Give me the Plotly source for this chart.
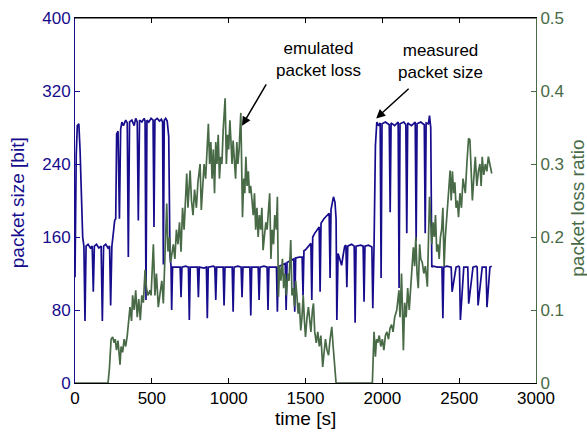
import plotly.graph_objects as go

# ---------------- data ----------------
size_t = [0, 8, 15, 25, 33, 42, 50, 58, 65, 72, 85, 100, 112, 119, 126, 140, 155, 170, 178, 186, 200, 215, 225, 232, 240,
          250, 258, 265, 271, 280, 289, 297, 305, 315, 330, 340, 347, 355, 370, 385, 395, 405, 412, 420, 435, 450, 456, 462,
          468, 480, 495, 508, 514, 520, 535, 550, 562, 570, 575, 581, 590, 600, 610, 618, 625, 629, 635,
          660, 684, 690, 696, 720, 738, 744, 750, 780, 797, 803, 809, 840, 855, 861, 867, 900, 910, 916, 922, 950, 964, 970, 976,
          1000, 1023, 1029, 1035, 1060, 1081, 1087, 1093, 1120, 1138, 1144, 1150, 1175, 1192, 1198, 1204, 1230, 1250, 1256, 1262,
          1290, 1311, 1317, 1323, 1330, 1350, 1368, 1374, 1380, 1400, 1424, 1430, 1436, 1460, 1478, 1484, 1490,
          1500, 1530, 1535, 1541, 1547, 1560, 1585, 1589, 1595, 1601, 1620, 1650, 1654, 1660, 1666, 1682, 1692, 1699, 1704,
          1712, 1725, 1735, 1745, 1755, 1763, 1769, 1775, 1800, 1817, 1823, 1829, 1860, 1875, 1881, 1887, 1910, 1932, 1938,
          1946, 1955, 1964, 1975, 1986, 1992, 1998, 2020, 2045, 2051, 2057, 2080, 2103, 2109, 2115, 2140, 2153, 2159, 2165,
          2190, 2214, 2220, 2226, 2250, 2273, 2279, 2285, 2300, 2307, 2315, 2322, 2330, 2360, 2388, 2394, 2400, 2420, 2442,
          2448, 2454, 2480, 2496, 2502, 2508, 2530, 2550, 2556, 2562, 2590, 2611, 2617, 2623, 2650, 2669, 2675, 2681, 2700, 2712]
size_v = [116, 250, 282, 284, 255, 190, 160, 150, 68, 150, 152, 148, 150, 100, 150, 152, 148, 150, 68, 150, 152, 148, 150, 85, 150,
          165, 178, 180, 273, 276, 180, 278, 286, 282, 288, 285, 138, 286, 288, 282, 290, 286, 178, 288, 286, 290, 287, 91,
          288, 286, 290, 288, 171, 288, 290, 287, 289, 286, 130, 288, 290, 287, 270, 140, 128, 80, 127,
          127, 127, 94, 127, 128, 127, 69, 127, 127, 127, 94, 127, 126, 127, 71, 127, 128, 127, 91, 127, 127, 127, 85, 127,
          127, 127, 78, 127, 128, 127, 94, 127, 127, 127, 74, 127, 127, 127, 91, 127, 128, 127, 80, 127,
          127, 127, 78, 127, 128, 130, 131, 80, 132, 134, 136, 78, 137, 138, 138, 96, 145,
          146, 152, 153, 91, 160, 164, 170, 171, 100, 175, 180, 185, 186, 115, 190, 204, 198, 180, 69,
          142, 135, 129, 140, 150, 151, 105, 150, 152, 150, 66, 150, 151, 150, 89, 150, 151, 149, 82,
          150, 260, 286, 282, 285, 115, 284, 286, 283, 187, 285, 282, 286, 104, 284, 286, 283, 164, 285,
          282, 286, 156, 284, 286, 283, 164, 285, 284, 293, 280, 127, 128, 127, 127, 71, 127, 128, 127,
          127, 100, 127, 128, 127, 69, 127, 127, 127, 87, 127, 128, 127, 85, 127, 127, 127, 83, 127, 128, 127]

loss_t = [0, 215, 224, 235, 245, 255, 262, 270, 280, 293, 300, 310, 320, 330, 340, 350, 358, 368, 375, 385, 395, 405, 415, 425,
          435, 445, 456, 465, 475, 488, 495, 510, 520, 530, 542, 555, 565, 575, 585, 597, 605, 615, 622, 630, 640, 650, 660,
          670, 680, 690, 700, 710, 720, 727, 735, 745, 749, 758, 768, 778, 790, 800, 814, 822, 832, 840, 850, 858, 868, 876,
          884, 892, 900, 908, 916, 924, 932, 940, 948, 956, 964, 977, 985, 993, 1000, 1008, 1016, 1022, 1029, 1037, 1045,
          1053, 1060, 1068, 1079, 1090, 1098, 1105, 1112, 1120, 1128, 1135, 1143, 1152, 1160, 1168, 1176, 1184, 1192, 1200,
          1208, 1216, 1224, 1232, 1242, 1250, 1258, 1267, 1275, 1283, 1292, 1300, 1310, 1317, 1324, 1332, 1340, 1350, 1358,
          1366, 1375, 1385, 1393, 1404, 1412, 1420, 1428, 1436, 1444, 1452, 1460, 1469, 1477, 1485, 1493, 1500, 1510, 1519,
          1528, 1535, 1545, 1552, 1560, 1570, 1580, 1590, 1600, 1612, 1620, 1630, 1640, 1650, 1660, 1671, 1680, 1690, 1699,
          1935, 1946, 1955, 1962, 1970, 1980, 1990, 2000, 2010, 2020, 2030, 2040, 2050, 2060, 2070, 2080, 2094, 2108, 2115,
          2125, 2137, 2145, 2155, 2165, 2175, 2190, 2202, 2210, 2218, 2226, 2234, 2243, 2250, 2260, 2270, 2280, 2293, 2307,
          2315, 2322, 2330, 2338, 2346, 2354, 2362, 2370, 2378, 2386, 2394, 2402, 2410, 2418, 2426, 2434, 2441, 2448, 2456,
          2464, 2472, 2480, 2488, 2496, 2505, 2515, 2525, 2540, 2550, 2561, 2570, 2578, 2586, 2595, 2605, 2615, 2625, 2635,
          2643, 2650, 2660, 2670, 2680, 2690, 2700, 2712]
loss_v = [0, 0, 0.02, 0.06, 0.063, 0.055, 0.06, 0.045, 0.058, 0.025, 0.05, 0.042, 0.06, 0.05, 0.065, 0.09, 0.104, 0.085,
          0.12, 0.1, 0.127, 0.09, 0.115, 0.086, 0.12, 0.11, 0.155, 0.13, 0.12, 0.127, 0.12, 0.19, 0.12, 0.15, 0.104, 0.125,
          0.14, 0.109, 0.17, 0.246, 0.18, 0.2, 0.165, 0.18, 0.19, 0.17, 0.21, 0.19, 0.22, 0.18, 0.24, 0.21, 0.26, 0.287,
          0.24, 0.28, 0.291, 0.25, 0.23, 0.265, 0.24, 0.275, 0.30, 0.237, 0.27, 0.30, 0.28, 0.31, 0.355, 0.30, 0.33, 0.28,
          0.32, 0.26, 0.33, 0.30, 0.34, 0.28, 0.31, 0.30, 0.345, 0.39, 0.30, 0.34, 0.32, 0.36, 0.33, 0.30, 0.332, 0.31,
          0.28, 0.33, 0.30, 0.32, 0.37, 0.227, 0.28, 0.26, 0.31, 0.27, 0.29, 0.26, 0.27, 0.25, 0.23, 0.26, 0.21, 0.24, 0.20,
          0.23, 0.21, 0.24, 0.182, 0.20, 0.22, 0.21, 0.23, 0.26, 0.17, 0.21, 0.19, 0.23, 0.21, 0.255, 0.118, 0.16, 0.14,
          0.17, 0.13, 0.15, 0.12, 0.15, 0.14, 0.196, 0.12, 0.13, 0.105, 0.14, 0.12, 0.095, 0.11, 0.072, 0.09, 0.12, 0.085,
          0.063, 0.09, 0.104, 0.085, 0.07, 0.1, 0.109, 0.07, 0.055, 0.07, 0.05, 0.065, 0.022, 0.04, 0.06, 0.045, 0.038,
          0.06, 0.077, 0.05, 0.02, 0, 0, 0.07, 0.036, 0.06, 0.055, 0.065, 0.05, 0.06, 0.045, 0.065, 0.07, 0.06, 0.075,
          0.08, 0.07, 0.09, 0.1, 0.127, 0.09, 0.15, 0.045, 0.11, 0.09, 0.13, 0.1, 0.15, 0.186, 0.16, 0.2, 0.15, 0.13, 0.19,
          0.17, 0.165, 0.15, 0.16, 0.132, 0.255, 0.21, 0.19, 0.22, 0.2, 0.23, 0.18, 0.19, 0.17, 0.2, 0.21, 0.24, 0.16, 0.2,
          0.22, 0.25, 0.27, 0.291, 0.25, 0.29, 0.26, 0.275, 0.24, 0.25, 0.227, 0.26, 0.24, 0.28, 0.26, 0.3, 0.335, 0.333,
          0.30, 0.25, 0.28, 0.31, 0.27, 0.29, 0.30, 0.27, 0.31, 0.285, 0.3, 0.29, 0.31, 0.3, 0.287]

x_ticks = [0, 500, 1000, 1500, 2000, 2500, 3000]
size_ticks = [0, 80, 160, 240, 320, 400]
loss_ticks = [0, 0.1, 0.2, 0.3, 0.4, 0.5]

# ---------------- style ----------------
BLUE = "rgb(22,12,140)"
GREEN = "rgb(72,106,70)"
FONT = "Liberation Sans, Arial, Helvetica, sans-serif"
TICK = 17
TITLE = 19
NOTE = 17

fig = go.Figure()
fig.add_trace(go.Scatter(x=size_t, y=size_v, mode="lines", line=dict(color=BLUE, width=1.7),
                         name="packet size", showlegend=False))
fig.add_trace(go.Scatter(x=loss_t, y=loss_v, mode="lines", line=dict(color=GREEN, width=1.7),
                         name="packet loss ratio", yaxis="y2", showlegend=False))

fig.update_layout(
    width=587, height=433,
    margin=dict(l=75, r=51, t=18, b=50, autoexpand=False),
    paper_bgcolor="white", plot_bgcolor="white",
    font=dict(family=FONT, size=16, color="black"),
    xaxis=dict(range=[0, 3000], tickvals=x_ticks, ticks="inside", ticklen=5, tickcolor="black",
               showline=True, linecolor="black", linewidth=1, mirror="ticks", showgrid=False, zeroline=False,
               automargin=False, tickfont=dict(size=TICK)),
    yaxis=dict(range=[0, 400], tickvals=size_ticks, ticks="inside", ticklen=5, tickcolor=BLUE,
               showline=True, linecolor=BLUE, linewidth=1, showgrid=False, zeroline=False,
               automargin=False, tickfont=dict(color=BLUE, size=TICK)),
    yaxis2=dict(range=[0, 0.5], tickvals=loss_ticks, ticks="inside", ticklen=5, tickcolor=GREEN,
                overlaying="y", side="right", showline=True, linecolor=GREEN, linewidth=1,
                showgrid=False, zeroline=False, automargin=False, tickfont=dict(color=GREEN, size=TICK)),
)

# top border
fig.add_shape(type="line", xref="paper", yref="paper", x0=0, x1=1, y0=1, y1=1, line=dict(color="black", width=1))

# axis titles as positioned annotations
fig.add_annotation(x=0.5, y=-0.096, xref="paper", yref="paper", text="time [s]", showarrow=False,
                   font=dict(size=TITLE, color="black"), xanchor="center", yanchor="middle")
fig.add_annotation(x=-0.126, y=0.495, xref="paper", yref="paper", text="packet size [bit]", showarrow=False,
                   textangle=-90, font=dict(size=TITLE, color=BLUE), xanchor="center", yanchor="middle")
fig.add_annotation(x=1.091, y=0.48, xref="paper", yref="paper", text="packet loss ratio", showarrow=False,
                   textangle=-90, font=dict(size=TITLE, color=GREEN), xanchor="center", yanchor="middle")

fig.add_annotation(x=1582, y=354, xref="x", yref="y", text="emulated<br>packet loss", showarrow=False,
                   font=dict(size=NOTE, color="black"))
fig.add_annotation(x=2376, y=352, xref="x", yref="y", text="measured<br>packet size", showarrow=False,
                   font=dict(size=NOTE, color="black"))
fig.add_annotation(x=1087, y=282, ax=1250, ay=329, xref="x", yref="y", axref="x", ayref="y", text="",
                   showarrow=True, arrowhead=2, arrowsize=1.2, arrowwidth=1.5, arrowcolor="black")
fig.add_annotation(x=1960, y=290, ax=2181, ay=324, xref="x", yref="y", axref="x", ayref="y", text="",
                   showarrow=True, arrowhead=2, arrowsize=1.2, arrowwidth=1.5, arrowcolor="black")

fig.write_html("out.html")
